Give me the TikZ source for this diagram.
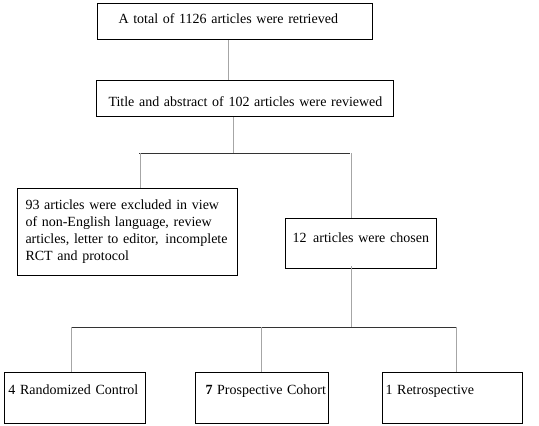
\documentclass[tikz,border=0pt]{standalone}
\usepackage{fontspec}
\setmainfont{Liberation Serif}
\usetikzlibrary{positioning}

\begin{document}
\begin{tikzpicture}[x=1pt, y=-1pt,
        box/.style={draw, line width=1pt, anchor=north west, align=left, inner sep=0pt,
            font=\fontsize{14}{17}\selectfont},
        link/.style={gray!70, line width=0.6pt},
        bar/.style={black!80, line width=0.9pt}]
        \useasboundingbox (0, 0) rectangle (539, 426);
        % Kaesten
        \node[box, text width=275pt, text height=20pt, text depth=16pt] (total) at (97, 3)
            {\hspace*{21pt}A total of 1126 articles were retrieved};
        \node[box, text width=297pt, text height=26pt, text depth=10pt] (title) at (96, 80)
            {\hspace*{12pt}Title and abstract of 102 articles were reviewed};
        \node[box, inner xsep=8pt, text width=204pt, minimum height=87pt] (excluded) at (17, 188)
            {93 articles were excluded in view\\of non-English language, review\\articles, letter to editor,\hspace{2pt} incomplete\\RCT and protocol};
        \node[box, text width=151pt, text height=24pt, text depth=26pt] (chosen) at (285, 218)
            {\hspace*{7pt}12\hspace{2pt} articles were chosen};
        \node[box, text width=141pt, text height=22pt, text depth=29pt] (rct) at (4, 372)
            {\hspace*{4pt}4 Randomized Control};
        \node[box, text width=133pt, text height=22pt, text depth=29pt] (cohort) at (195, 372)
            {\hspace*{10pt}\textbf{7} Prospective Cohort};
        \node[box, text width=140pt, text height=22pt, text depth=29pt] (retro) at (382, 372)
            {\hspace*{3pt}1 Retrospective};
        % Verzweigungen
        \coordinate (split1) at (233, 153);
        \coordinate (split2) at (351, 327);
        \coordinate (left1) at (140, 153);
        \coordinate (right1) at (351, 153);
        % Linien
        \draw[link] (228, 40) -- (228 ,0 |- title.north);
        \draw[link] (split1 |- title.south) -- (split1);
        \draw[bar]  (139, 153) -- (350, 153);
        \draw[link] (left1) -- (left1 |- excluded.north);
        \draw[link] (right1) -- (right1 |- chosen.north);
        \draw[link] ([yshift=3pt]split2 |- chosen.south) -- (split2);
        \draw[bar]  (71, 327) -- (456, 327);
        \foreach \b/\x in {rct/71, cohort/261, retro/456}
        {
            \draw[link] (\x, 327) -- (\x, 0 |- \b.north);
        }
\end{tikzpicture}
\end{document}
